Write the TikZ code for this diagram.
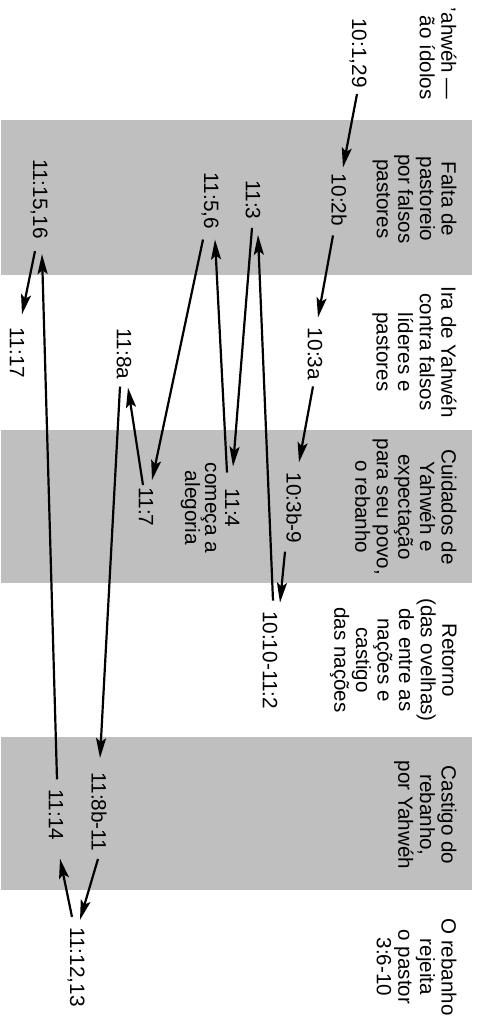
\documentclass[tikz,border=0pt]{standalone}
\usepackage{fontspec}
\setmainfont{Liberation Sans}
\usetikzlibrary{arrows.meta,calc}
\tikzset{
  band/.style={fill=black!25, draw=none},
  hdr/.style={rotate=-90, anchor=north, align=center, inner sep=0pt,
    font=\fontsize{10.3}{10.8}\selectfont},
  ref/.style={rotate=-90, inner sep=3pt, font=\fontsize{10.4}{10}\selectfont},
  arr/.style={-{Stealth[length=10pt, width=5pt, inset=2pt]}, line width=1.1pt},
}
\begin{document}
\begin{tikzpicture}[x=0.5pt, y=-0.5pt]
  \useasboundingbox (0,0) rectangle (478,1021);
  % shaded bands
  \fill[band] (1,120) rectangle (472,275);
  \fill[band] (1,430) rectangle (472,583);
  \fill[band] (1,737) rectangle (472,890);
  % column heads
  \node[hdr, anchor=north east, align=right] (h0) at (457,100) {’ahwéh —\\ão ídolos};
  \node[hdr] (h1) at (457,199) {Falta de\\pastoreio\\por falsos\\pastores};
  \node[hdr] (h2) at (457,352) {Ira de Yahwéh\\contra falsos\\líderes e\\pastores};
  \node[hdr] (h3) at (457,507) {Cuidados de\\Yahwéh e\\expectação\\para seu povo,\\o rebanho};
  \node[hdr] (h4) at (457,660) {Retorno\\(das ovelhas)\\de entre as\\nações e\\castigo\\das nações};
  \node[hdr] (h5) at (457,815) {Castigo do\\rebanho,\\por Yahwéh};
  \node[hdr] (h6) at (457,967) {O rebanho\\rejeita\\o pastor\\3:6-10};
  % passages
  \node[ref] (v1011) at (358,53) {10:1,29};
  \node[ref] (v102b) at (339,200) {10:2b};
  \node[ref] (v103a) at (315,354) {10:3a};
  \node[ref] (v103b) at (294,508) {10:3b-9};
  \node[ref] (v1010) at (270,660) {10:10-11:2};
  \node[ref] (v113) at (253,200) {11:3};
  \node[ref, align=center] (v114) at (210,508) {11:4\\começa a\\alegoria};
  \node[ref] (v1156) at (210,201) {11:5,6};
  \node[ref] (v117) at (146,507) {11:7};
  \node[ref] (v118a) at (124,354) {11:8a};
  \node[ref] (v118b) at (99,812) {11:8b-11};
  \node[ref] (v1112) at (76,967) {11:12,13};
  \node[ref] (v1114) at (56,815) {11:14};
  \node[ref] (v1115) at (39,199) {11:15,16};
  \node[ref] (v1117) at (17,353) {11:17};
  % sequence of the text
  \draw[arr] ($(v1011.east)+(-1,0)$) -- ($(v102b.west)+(4,0)$);
  \draw[arr] ($(v102b.east)+(-6,3)$) -- ($(v103a.west)+(3,-4)$);
  \draw[arr] ($(v103a.east)+(-2,0)$) -- ($(v103b.west)+(5,-4)$);
  \draw[arr] ($(v103b.east)+(-9,2)$) -- ($(v1010.west)+(10,-2)$);
  \draw[arr] ($(v1010.west)+(3,-4)$) -- ($(v113.east)+(5,9)$);
  \draw[arr] ($(v113.east)+(-1,2)$) -- ($(v114.west)+(23,10)$);
  \draw[arr] ($(v114.west)+(17,16)$) -- ($(v1156.east)+(5,4)$);
  \draw[arr] ($(v1156.east)+(-7,4)$) -- ($(v117.west)+(6,-1)$);
  \draw[arr] ($(v117.west)+(-3,4)$) -- ($(v118a.east)+(4,2)$);
  \draw[arr] ($(v118a.east)+(-4,1)$) -- ($(v118b.west)+(1,-8)$);
  \draw[arr] ($(v118b.east)+(-1,1)$) -- ($(v1112.west)+(4,-1)$);
  \draw[arr] ($(v1112.west)+(-4,-4)$) -- ($(v1114.east)+(4,12)$);
  \draw[arr] ($(v1114.west)+(1,-4)$) -- ($(v1115.east)+(3,9)$);
  \draw[arr] ($(v1115.east)+(-4,6)$) -- ($(v1117.west)+(5,-7)$);
\end{tikzpicture}
\end{document}
